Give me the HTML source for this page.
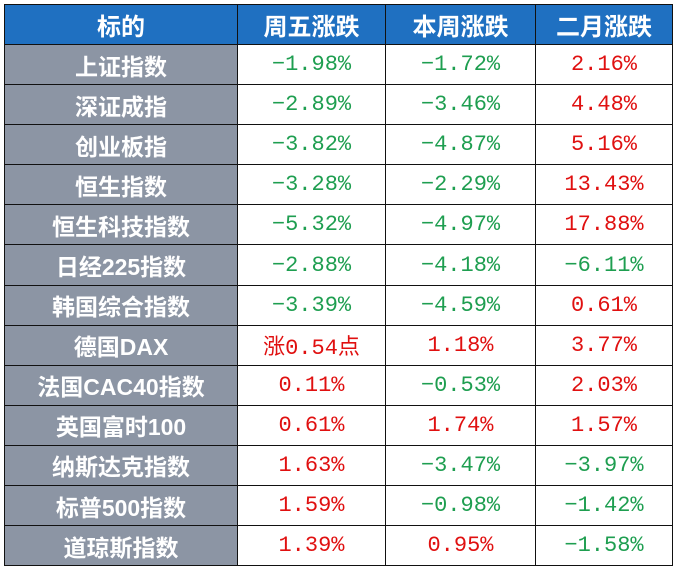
<!DOCTYPE html>
<html><head><meta charset="utf-8"><style>
body{margin:0;background:#fff;width:680px;height:572px;overflow:hidden}
table{position:absolute;left:4px;top:4px;border-collapse:collapse;font-family:"Liberation Sans","Noto Sans CJK SC",sans-serif}
td,th{border:1.5px solid #111;height:39.1px;padding:0;text-align:center;font-size:23px}
th{background:#1f70c1;color:#fff;font-weight:bold;height:39px;font-size:24px}
td.n{background:#8c95a4;color:#fff;font-weight:bold}
td.v{font-family:"Liberation Mono","Noto Sans CJK SC",monospace;font-size:22px}
.g{color:#1e9e50}.r{color:#e01010}
</style></head><body>
<table>
<colgroup><col style="width:233px"><col style="width:148px"><col style="width:150px"><col style="width:137px"></colgroup>
<thead><tr><th>标的</th><th>周五涨跌</th><th>本周涨跌</th><th>二月涨跌</th></tr></thead>
<tbody id="tb"></tbody></table>
<script>
const names=["上证指数","深证成指","创业板指","恒生指数","恒生科技指数","日经225指数","韩国综合指数","德国DAX","法国CAC40指数","英国富时100","纳斯达克指数","标普500指数","道琼斯指数"];
const friday=["-1.98%","-2.89%","-3.82%","-3.28%","-5.32%","-2.88%","-3.39%","涨0.54点","0.11%","0.61%","1.63%","1.59%","1.39%"];
const week=["-1.72%","-3.46%","-4.87%","-2.29%","-4.97%","-4.18%","-4.59%","1.18%","-0.53%","1.74%","-3.47%","-0.98%","0.95%"];
const feb=["2.16%","4.48%","5.16%","13.43%","17.88%","-6.11%","0.61%","3.77%","2.03%","1.57%","-3.97%","-1.42%","-1.58%"];
const tb=document.getElementById('tb');
names.forEach((n,i)=>{
 const tr=document.createElement('tr');
 
 
 const c=document.createElement('td');c.className='n';c.textContent=n;
 
 
 tr.appendChild(c);
 [friday[i],week[i],feb[i]].forEach((v,j)=>{
  const d=document.createElement('td');
  d.className='v '+(v.startsWith('-')?'g':'r');
  d.textContent=v.replace('-','−');
  
  
  tr.appendChild(d);
 });
 tb.appendChild(tr);
});
</script></body></html>
